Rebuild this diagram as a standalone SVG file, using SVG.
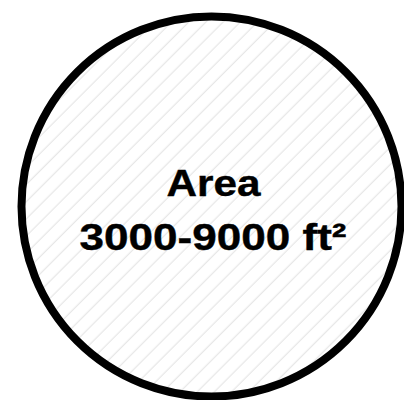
<svg xmlns="http://www.w3.org/2000/svg" width="404" height="400" viewBox="0 0 404 400">
  <style>
    .lbl { font-family: "Liberation Sans", Arial, sans-serif; font-weight: bold; font-size: 37px; fill: #000; stroke: #000; stroke-width: 0.4px; }
  </style>
  <defs>
    <pattern id="hatch" patternUnits="userSpaceOnUse" width="10" height="12.16" patternTransform="rotate(-45)">
      <line x1="-1" y1="3.04" x2="11" y2="3.04" stroke="#d2d2d2" stroke-width="0.7"/>
    </pattern>
  </defs>
  <rect width="404" height="400" fill="#fff"/>
  <g id="area-node">
    <circle cx="211.5" cy="206.5" r="190" fill="#fff"/>
    <circle cx="211.5" cy="206.5" r="190" fill="url(#hatch)" stroke="#000" stroke-width="8"/>
    <text class="lbl" x="166.5" y="196" textLength="94" lengthAdjust="spacingAndGlyphs">Area</text>
    <text class="lbl" x="79.5" y="249.5" textLength="267" lengthAdjust="spacingAndGlyphs">3000-9000 ft²</text>
  </g>
  <g id="connectors"></g>
</svg>
